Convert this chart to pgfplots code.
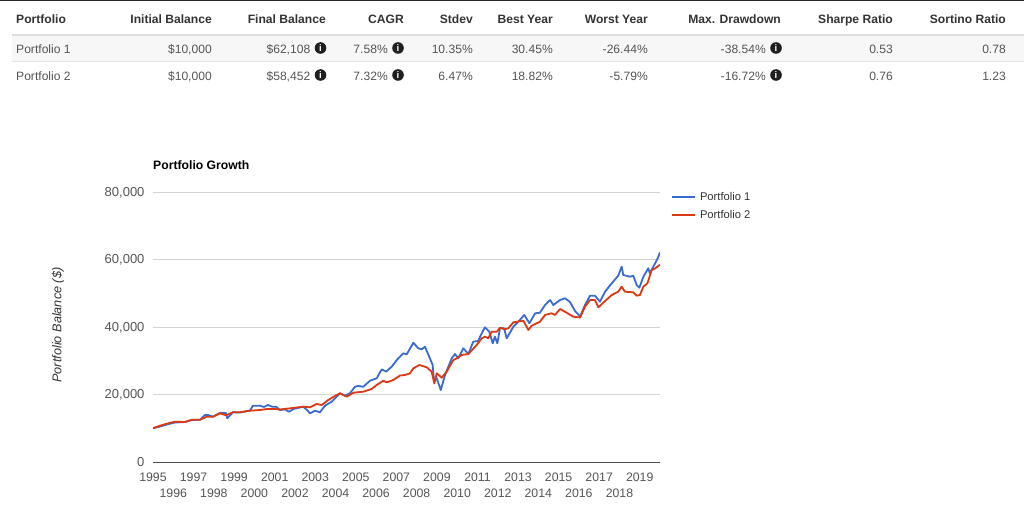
\documentclass[border=0pt]{standalone}
\usepackage{pgfplots}
\pgfplotsset{compat=1.18}
\usepackage{fontspec}
\setmainfont{Liberation Sans}
\definecolor{pone}{HTML}{3A6BD0}
\definecolor{ptwo}{HTML}{DC3912}
\definecolor{hdr}{HTML}{333333}
\definecolor{body}{HTML}{555555}
\definecolor{tickc}{HTML}{555555}
\definecolor{gridc}{HTML}{D4D4D4}
\newcommand{\fs}[1]{\fontsize{#1}{#1}\selectfont}
\newcommand{\hd}[2]{\node[anchor=base east,inner sep=0pt,text=hdr] at (#1,480) {\fs{12.1}\bfseries #2};}
\newcommand{\cell}[3]{\node[anchor=base east,inner sep=0pt,text=body] at (#1,#2) {\fs{12.1}#3};}
\newcommand{\info}[2]{\fill[black!88] (#1,#2) circle (5.8);\node[inner sep=0pt,text=white] at (#1,#2) {\fs{9.5}\bfseries i};}
\begin{document}
\begin{tikzpicture}[x=1pt,y=1pt]
\path[use as bounding box] (0,0) rectangle (1024,504);
% table
\fill[black!85] (0,503) rectangle (1024,504);
\fill[black!3] (12,442) rectangle (1024,468);
\fill[black!13] (12,468) rectangle (1024,470);
\fill[black!11] (12,441.5) rectangle (1024,442.5);
\node[anchor=base west,inner sep=0pt,text=hdr] at (16,480) {\fs{12.1}\bfseries Portfolio};
\hd{212}{Initial Balance}\hd{326}{Final Balance}\hd{404}{CAGR}\hd{473}{Stdev}\hd{553}{Best Year}\hd{648}{Worst Year}\hd{781}{Max. Drawdown}\hd{893}{Sharpe Ratio}\hd{1006}{Sortino Ratio}
\node[anchor=base west,inner sep=0pt,text=body] at (16,450.5) {\fs{12.1}Portfolio 1};
\node[anchor=base west,inner sep=0pt,text=body] at (16,423.5) {\fs{12.1}Portfolio 2};
\cell{212}{450.5}{\$10,000}\cell{310.5}{450.5}{\$62,108}\cell{388}{450.5}{7.58\%}\cell{473}{450.5}{10.35\%}\cell{553}{450.5}{30.45\%}\cell{648}{450.5}{-26.44\%}\cell{766}{450.5}{-38.54\%}\cell{893}{450.5}{0.53}\cell{1006}{450.5}{0.78}
\cell{212}{423.5}{\$10,000}\cell{310.5}{423.5}{\$58,452}\cell{388}{423.5}{7.32\%}\cell{473}{423.5}{6.47\%}\cell{553}{423.5}{18.82\%}\cell{648}{423.5}{-5.79\%}\cell{766}{423.5}{-16.72\%}\cell{893}{423.5}{0.76}\cell{1006}{423.5}{1.23}
\info{320.5}{456}\info{398}{456}\info{776}{456}
\info{320.5}{429}\info{398}{429}\info{776}{429}
% chart
\node[anchor=base west,inner sep=0pt,text=black] at (153,334) {\fs{12.2}\bfseries Portfolio Growth};
\node[rotate=90,inner sep=0pt,text=hdr] at (58,179) {\fs{12.7}\itshape Portfolio Balance (\$)};
\begin{axis}[
  at={(153pt,42pt)},anchor=south west,
  scale only axis,width=507pt,height=270pt,
  xmin=1995,xmax=2020,ymin=0,ymax=80000,
  axis line style={draw=none},
  axis x line*=bottom,axis y line*=left,
  xtick={1995,1997,1999,2001,2003,2005,2007,2009,2011,2013,2015,2017,2019},
  extra x ticks={1996,1998,2000,2002,2004,2006,2008,2010,2012,2014,2016,2018},
  extra x tick style={xticklabel style={yshift=-16pt},grid=none},
  /pgf/number format/assume math mode=true,
  x tick label style={/pgf/number format/1000 sep={},font=\fs{12.3},text=tickc,yshift=-5pt},
  ytick={0,20000,40000,60000,80000},
  scaled y ticks=false,
  y tick label style={/pgf/number format/1000 sep={,},font=\fs{13},text=tickc,xshift=-3pt,yshift=-0.5pt},
  ymajorgrids,
  grid style={gridc,line width=0.9pt},
  major tick length=0pt,
  xticklabel shift=2pt,yticklabel shift=2pt,
  legend style={at={(1.0217,1.0)},anchor=north west,draw=none,fill=none,inner sep=0pt,
    font=\fs{11.2},text=hdr,row sep=8.6pt,nodes={inner sep=0pt,anchor=west}},
  legend cell align=left,
  legend image code/.code={\draw[#1] (0pt,0pt) -- (23pt,0pt);},
]
\addplot[pone,line width=1.8pt,line join=round] table {
1995.00 10000
1995.35 10520
1995.68 11110
1996.08 11700
1996.58 11850
1996.91 12440
1997.32 12530
1997.56 13930
1997.71 13930
1997.96 13420
1998.30 14520
1998.60 14520
1998.66 12950
1998.94 14730
1999.29 14670
1999.78 15260
1999.93 16680
2000.28 16680
2000.47 16300
2000.67 16890
2000.87 16390
2001.07 16390
2001.26 15410
2001.51 15560
2001.72 14900
2001.92 15700
2002.41 16390
2002.59 15410
2002.74 14430
2002.99 15200
2003.23 14730
2003.48 16680
2003.81 17870
2004.22 20360
2004.47 19640
2004.71 20360
2004.96 22310
2005.12 22520
2005.37 22310
2005.70 24090
2006.03 24800
2006.28 27470
2006.49 26760
2006.77 28240
2007.02 30220
2007.34 32210
2007.51 31910
2007.84 35350
2008.08 33690
2008.25 33390
2008.41 34160
2008.62 31200
2008.79 28740
2008.86 23790
2008.99 24800
2009.19 21330
2009.40 25780
2009.73 30730
2009.89 32000
2010.05 30730
2010.30 33690
2010.55 32000
2010.79 35650
2011.03 35850
2011.21 38130
2011.37 39910
2011.58 38610
2011.75 35170
2011.86 37130
2011.98 35170
2012.11 39620
2012.31 39620
2012.44 36650
2012.77 40090
2013.01 41570
2013.31 43560
2013.56 41100
2013.84 44060
2014.08 44240
2014.33 46520
2014.58 48000
2014.74 46520
2015.07 48000
2015.32 48500
2015.56 47410
2015.81 44740
2016.06 43110
2016.30 46520
2016.55 49280
2016.79 49280
2017.04 47500
2017.29 50460
2017.62 52950
2017.94 55200
2018.11 57870
2018.19 55410
2018.52 54900
2018.68 55200
2018.85 52450
2018.98 51650
2019.18 54900
2019.42 57390
2019.50 55910
2019.67 57870
2019.87 60150
2020.00 62108
};
\addlegendentry{\hspace{4pt}Portfolio 1}
\addplot[ptwo,line width=1.8pt,line join=round] table {
1995.00 10000
1995.35 10760
1995.68 11350
1996.08 11940
1996.58 11850
1996.91 12530
1997.32 12530
1997.65 13420
1997.96 13420
1998.30 14430
1998.60 13840
1998.94 14730
1999.29 14730
1999.78 15200
2000.28 15410
2000.61 15700
2001.02 15700
2001.26 15560
2001.76 15910
2002.41 16390
2002.74 16210
2003.07 17190
2003.32 16890
2003.64 18370
2003.97 19560
2004.22 20360
2004.55 19350
2004.88 20530
2005.37 20830
2005.78 21630
2006.03 22820
2006.36 24090
2006.52 23610
2006.85 24300
2007.18 25630
2007.43 25780
2007.67 26280
2007.84 27760
2008.13 28740
2008.50 28060
2008.74 26760
2008.87 23320
2008.99 26280
2009.24 24980
2009.48 26760
2009.81 30220
2009.98 30730
2010.22 31700
2010.55 32000
2010.96 34670
2011.21 36650
2011.37 37130
2011.53 36650
2011.70 38610
2011.95 38610
2012.11 39790
2012.36 39320
2012.52 39620
2012.77 41390
2013.26 41870
2013.51 39110
2013.67 40390
2014.08 41570
2014.33 43560
2014.66 44060
2014.82 43560
2015.07 45330
2015.40 44240
2015.72 43050
2016.06 42820
2016.30 46020
2016.55 48000
2016.79 48000
2016.96 45840
2017.29 47700
2017.62 49480
2017.94 50460
2018.11 51940
2018.27 50460
2018.68 50280
2018.85 49280
2019.01 49480
2019.18 51940
2019.38 52950
2019.59 56890
2019.75 57330
2020.00 58452
};
\addlegendentry{\hspace{4pt}Portfolio 2}
\end{axis}
\draw[black!70,line width=0.9pt] (153,42) -- (660,42);
\end{tikzpicture}
\end{document}
